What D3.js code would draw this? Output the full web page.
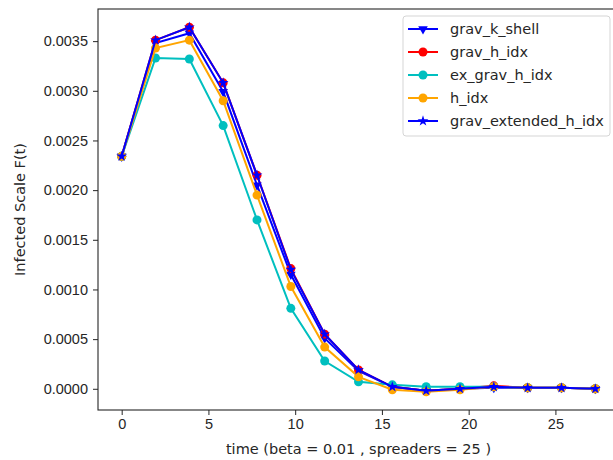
<!DOCTYPE html>
<html>
<head>
<meta charset="utf-8">
<script src="https://cdn.jsdelivr.net/npm/d3@7"></script>
<style>
  body { margin: 0; background: #fff; }
  svg { display: block; font-family: "DejaVu Sans", sans-serif; }
  .axis text { font-size: 14.5px; fill: #262626; }
  .axis path, .axis line { stroke: #262626; }
</style>
</head>
<body>
<svg id="chart"></svg>
<script>
// time steps
const times = [0, 1.95, 3.9, 5.85, 7.8, 9.75, 11.7, 13.65, 15.6, 17.55, 19.5, 21.45, 23.4, 25.35, 27.3];

// infected scale per method
const gravKShell = [0.00234, 0.00348, 0.00358, 0.00299, 0.00205, 0.00115, 0.00051, 0.00018, 0.00002, -0.00002, 0.00000, 0.00001, 0.00001, 0.00001, 0.00000];
const gravHIdx = [0.00234, 0.00351, 0.00364, 0.00308, 0.00215, 0.00121, 0.00055, 0.00019, 0.00002, -0.00002, 0.00000, 0.00003, 0.00001, 0.00001, 0.00000];
const exGravHIdx = [0.00234, 0.00333, 0.00332, 0.00265, 0.00170, 0.00081, 0.00028, 0.00007, 0.00004, 0.00002, 0.00002, 0.00002, 0.00001, 0.00001, 0.00000];
const hIdx = [0.00234, 0.00343, 0.00351, 0.00290, 0.00195, 0.00103, 0.00042, 0.00012, -0.00001, -0.00003, -0.00001, 0.00002, 0.00001, 0.00001, 0.00000];
const gravExtendedHIdx = [0.00234, 0.00351, 0.00364, 0.00308, 0.00215, 0.00120, 0.00055, 0.00019, 0.00002, -0.00002, 0.00000, 0.00002, 0.00001, 0.00001, 0.00000];

const seriesNames = ["grav_k_shell", "grav_h_idx", "ex_grav_h_idx", "h_idx", "grav_extended_h_idx"];
const yTicks = [0, 0.0005, 0.001, 0.0015, 0.002, 0.0025, 0.003, 0.0035];
const xTicks = [0, 5, 10, 15, 20, 25];

const series = [
    {name: seriesNames[0], values: gravKShell, color: "#0000ff", marker: "tri"},
    {name: seriesNames[1], values: gravHIdx, color: "#ff0000", marker: "circle"},
    {name: seriesNames[2], values: exGravHIdx, color: "#00bfbf", marker: "circle"},
    {name: seriesNames[3], values: hIdx, color: "#ffa500", marker: "circle"},
    {name: seriesNames[4], values: gravExtendedHIdx, color: "#0000ff", marker: "star"}
];

const W = 613, H = 460;
const margin = {top: 9, right: -6, bottom: 50, left: 98};

const svg = d3.select("#chart").attr("width", W).attr("height", H);

// matplotlib style 5% margins
const xMin = d3.min(times), xMax = d3.max(times);
const xPad = (xMax - xMin) * 0.05;
const allVals = series.flatMap(s => s.values);
const yMin = d3.min(allVals), yMax = d3.max(allVals);
const yPad = (yMax - yMin) * 0.05;

const x = d3.scaleLinear()
    .domain([xMin - xPad, xMax + xPad])
    .range([margin.left, W - margin.right]);
const y = d3.scaleLinear()
    .domain([yMin - yPad, yMax + yPad])
    .range([H - margin.bottom, margin.top]);

// axes
svg.append("g")
    .attr("class", "axis")
    .attr("transform", `translate(0,${H - margin.bottom})`)
    .call(d3.axisBottom(x).tickValues(xTicks).tickSize(5).tickPadding(4).tickSizeOuter(0))
    .call(g => g.select(".domain").remove());

svg.append("g")
    .attr("class", "axis")
    .attr("transform", `translate(${margin.left},0)`)
    .call(d3.axisLeft(y).tickValues(yTicks).tickFormat(d3.format(".4f")).tickSize(5).tickPadding(5).tickSizeOuter(0))
    .call(g => g.select(".domain").remove());

// spines
svg.append("rect")
    .attr("x", margin.left)
    .attr("y", margin.top)
    .attr("width", (W - margin.right) - margin.left)
    .attr("height", (H - margin.bottom) - margin.top)
    .attr("fill", "none")
    .attr("stroke", "#262626")
    .attr("stroke-width", 1.1);

// axis titles
svg.append("text")
    .attr("x", (margin.left + W - margin.right) / 2)
    .attr("y", 454)
    .attr("text-anchor", "middle")
    .style("font-size", "14.5px")
    .attr("fill", "#262626")
    .text("time (beta = 0.01 , spreaders = 25 )");

svg.append("text")
    .attr("transform", `translate(25,${(margin.top + H - margin.bottom) / 2}) rotate(-90)`)
    .attr("text-anchor", "middle")
    .style("font-size", "14.5px")
    .attr("fill", "#262626")
    .text("Infected Scale F(t)");

// marker helper
function drawMarker(sel, kind, color) {
    if (kind === "circle") {
        sel.append("circle").attr("r", 4.5).attr("fill", color);
    } else if (kind === "tri") {
        sel.append("path")
            .attr("d", d3.symbol(d3.symbolTriangle, 40)())
            .attr("transform", "rotate(180)")
            .attr("fill", color);
    } else {
        sel.append("path")
            .attr("d", d3.symbol(d3.symbolStar, 36)())
            .attr("fill", color);
    }
}

const line = d3.line()
    .x(d => x(d[0]))
    .y(d => y(d[1]));

const plot = svg.append("g");

series.forEach(s => {
    const pts = times.map((t, i) => [t, s.values[i]]);
    const g = plot.append("g");
    g.append("path")
        .datum(pts)
        .attr("d", line)
        .attr("fill", "none")
        .attr("stroke", s.color)
        .attr("stroke-width", 2);
    g.selectAll(".m")
        .data(pts)
        .enter()
        .append("g")
        .attr("transform", d => `translate(${x(d[0])},${y(d[1])})`)
        .each(function() { drawMarker(d3.select(this), s.marker, s.color); });
});

// legend
const legend = svg.append("g").attr("transform", "translate(403,16)");
legend.append("rect")
    .attr("width", 207)
    .attr("height", 120)
    .attr("rx", 3)
    .attr("fill", "#fff")
    .attr("fill-opacity", 0.8)
    .attr("stroke", "#d5d5d5");

series.forEach((s, i) => {
    const row = legend.append("g").attr("transform", `translate(0,${13 + i * 23})`);
    row.append("line")
        .attr("x1", 5).attr("x2", 35)
        .attr("stroke", s.color)
        .attr("stroke-width", 2);
    const m = row.append("g").attr("transform", "translate(20,0)");
    drawMarker(m, s.marker, s.color);
    row.append("text")
        .attr("x", 47)
        .attr("dy", "0.35em")
        .style("font-size", "14.5px")
        .attr("fill", "#262626")
        .text(s.name);
});
</script>
</body>
</html>
